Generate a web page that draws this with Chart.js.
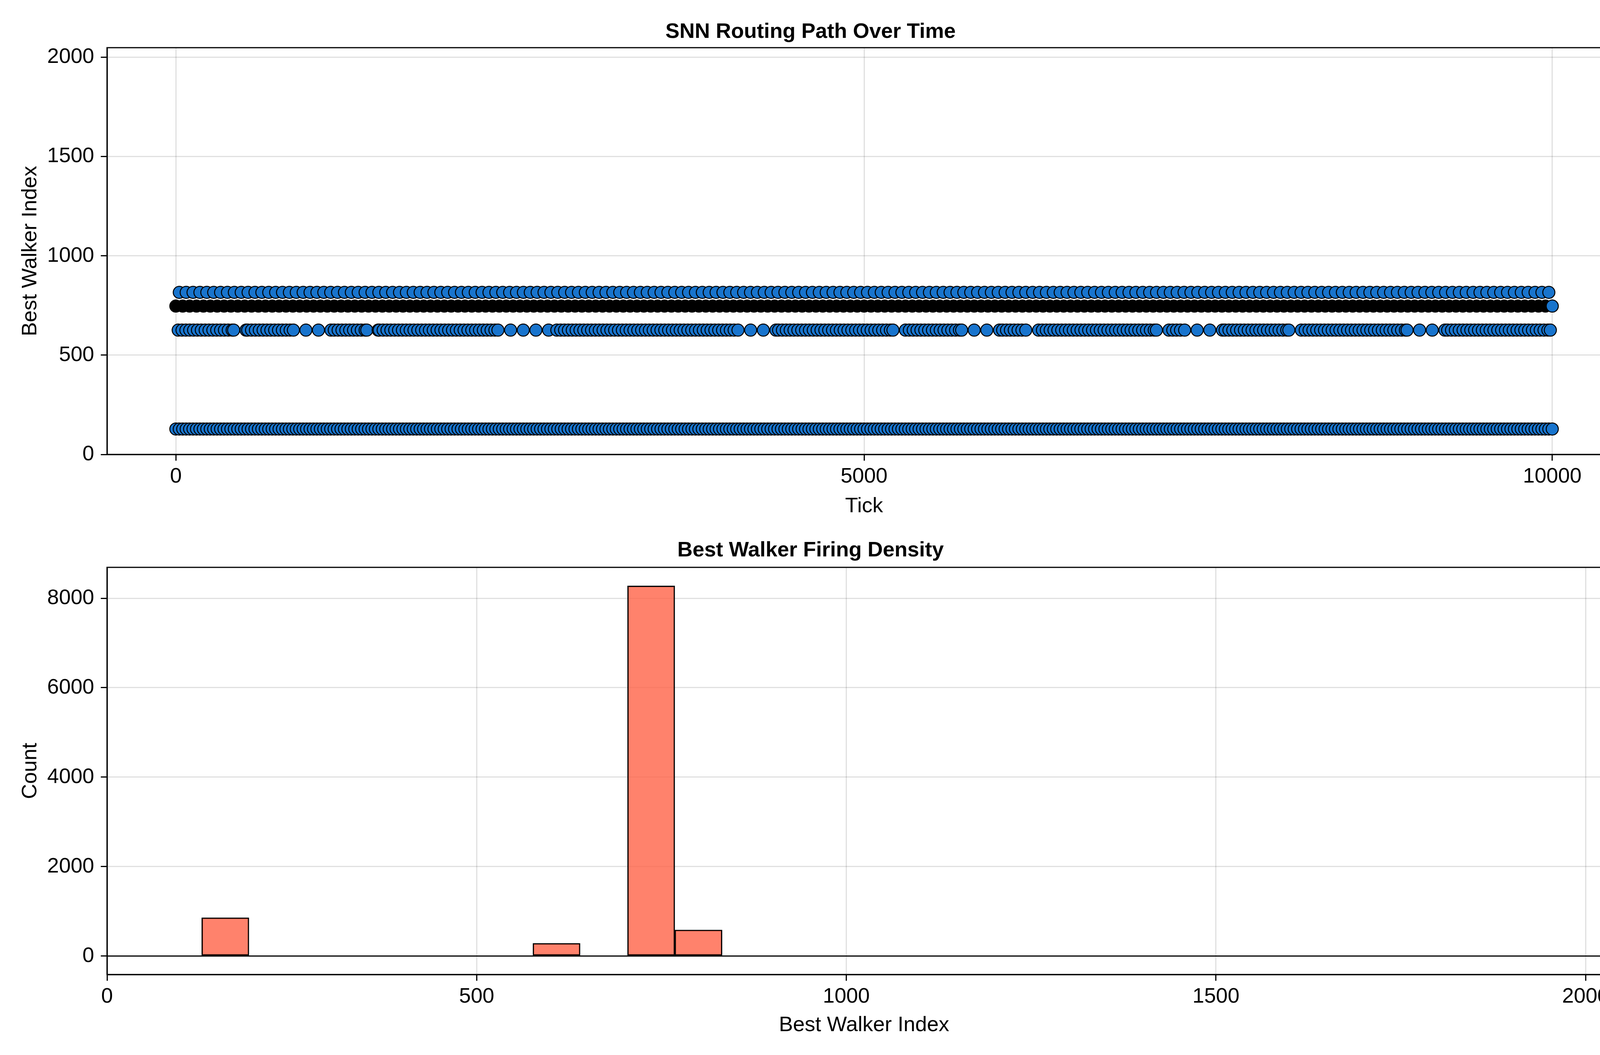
<!DOCTYPE html>
<html>
<head>
<meta charset="utf-8">
<script src="https://cdn.jsdelivr.net/npm/chart.js@4.4.0/dist/chart.umd.min.js"></script>
<style>
    html, body { margin: 0; padding: 0; background: #fff; }
    #lienzo { position: relative; width: 4200px; height: 2700px; }
    canvas { position: absolute; left: 0; }
</style>
</head>
<body>
<div id="lienzo">
    <canvas id="ruta" width="4200" height="1350" style="top:0"></canvas>
    <canvas id="densidad" width="4200" height="1350" style="top:1350px"></canvas>
</div>
<script>
// Walker indices that show up as rows in the top panel
const walkerIds = [128, 626, 747, 816];

// Ticks at which each walker was the best one (at dot resolution)
const ticks128 = [
    0,25,50,75,100,125,150,175,200,225,250,275,300,325,350,375,400,425,450,475,500,525,550,575,600,625,650,675,700,725,750,775,800,825,850,875,900,925,950,975,
    1000,1025,1050,1075,1100,1125,1150,1175,1200,1225,1250,1275,1300,1325,1350,1375,1400,1425,1450,1475,1500,1525,1550,1575,1600,1625,1650,1675,1700,1725,1750,1775,1800,1825,1850,1875,1900,1925,1950,1975,
    2000,2025,2050,2075,2100,2125,2150,2175,2200,2225,2250,2275,2300,2325,2350,2375,2400,2425,2450,2475,2500,2525,2550,2575,2600,2625,2650,2675,2700,2725,2750,2775,2800,2825,2850,2875,2900,2925,2950,2975,
    3000,3025,3050,3075,3100,3125,3150,3175,3200,3225,3250,3275,3300,3325,3350,3375,3400,3425,3450,3475,3500,3525,3550,3575,3600,3625,3650,3675,3700,3725,3750,3775,3800,3825,3850,3875,3900,3925,3950,3975,
    4000,4025,4050,4075,4100,4125,4150,4175,4200,4225,4250,4275,4300,4325,4350,4375,4400,4425,4450,4475,4500,4525,4550,4575,4600,4625,4650,4675,4700,4725,4750,4775,4800,4825,4850,4875,4900,4925,4950,4975,
    5000,5025,5050,5075,5100,5125,5150,5175,5200,5225,5250,5275,5300,5325,5350,5375,5400,5425,5450,5475,5500,5525,5550,5575,5600,5625,5650,5675,5700,5725,5750,5775,5800,5825,5850,5875,5900,5925,5950,5975,
    6000,6025,6050,6075,6100,6125,6150,6175,6200,6225,6250,6275,6300,6325,6350,6375,6400,6425,6450,6475,6500,6525,6550,6575,6600,6625,6650,6675,6700,6725,6750,6775,6800,6825,6850,6875,6900,6925,6950,6975,
    7000,7025,7050,7075,7100,7125,7150,7175,7200,7225,7250,7275,7300,7325,7350,7375,7400,7425,7450,7475,7500,7525,7550,7575,7600,7625,7650,7675,7700,7725,7750,7775,7800,7825,7850,7875,7900,7925,7950,7975,
    8000,8025,8050,8075,8100,8125,8150,8175,8200,8225,8250,8275,8300,8325,8350,8375,8400,8425,8450,8475,8500,8525,8550,8575,8600,8625,8650,8675,8700,8725,8750,8775,8800,8825,8850,8875,8900,8925,8950,8975,
    9000,9025,9050,9075,9100,9125,9150,9175,9200,9225,9250,9275,9300,9325,9350,9375,9400,9425,9450,9475,9500,9525,9550,9575,9600,9625,9650,9675,9700,9725,9750,9775,9800,9825,9850,9875,9900,9925,9950,9975,
    10000
];
const ticks626 = [
    17,45,73,101,129,157,185,213,241,269,297,325,353,381,409,420,
    510,522,550,578,606,634,662,690,718,746,774,802,830,854,
    945,1036,
    1127,1151,1179,1207,1235,1263,1291,1319,1347,1375,1387,
    1470,1478,1506,1534,1562,1590,1618,1646,1674,1702,1730,1758,1786,1814,1842,1870,1898,1926,1954,1982,2010,2038,2066,2094,2122,2150,2178,2206,2234,2262,2290,2318,2340,
    2432,2524,2616,
    2708,2768,2796,2824,2852,2880,2908,2936,2964,2992,3020,3048,3076,3104,3132,3160,3188,3216,3244,3272,3300,3328,3356,3384,3412,3440,3468,3496,3524,3552,3580,3608,3636,3664,3692,3720,3748,3776,3804,3832,3860,3888,3916,3944,3972,4000,4028,4056,4084,
    4176,4268,
    4360,4379,4407,4435,4463,4491,4519,4547,4575,4603,4631,4659,4687,4715,4743,4771,4799,4827,4855,4883,4911,4939,4967,4995,5023,5051,5079,5107,5135,5163,5191,5210,
    5301,5329,5357,5385,5413,5441,5469,5497,5525,5553,5581,5609,5637,5665,5693,5709,
    5800,5892,
    5984,6007,6035,6063,6091,6119,6147,6175,
    6268,6296,6324,6352,6380,6408,6436,6464,6492,6520,6548,6576,6604,6632,6660,6688,6716,6744,6772,6800,6828,6856,6884,6912,6940,6968,6996,7024,7052,7080,7108,7124,
    7215,7243,7271,7299,7329,
    7420,7512,
    7604,7623,7651,7679,7707,7735,7763,7791,7819,7847,7875,7903,7931,7959,7987,8015,8043,8071,8086,
    8177,8205,8233,8261,8289,8317,8345,8373,8401,8429,8457,8485,8513,8541,8569,8597,8625,8653,8681,8709,8737,8765,8793,8821,8849,8877,8905,8933,8945,
    9036,9128,
    9220,9240,9268,9296,9324,9352,9380,9408,9436,9464,9492,9520,9548,9576,9604,9632,9660,9688,9716,9744,9772,9800,9828,9856,9884,9912,9940,9968,9986
];
// dominant walker: fires almost every tick, sampled here
const ticks747 = [
    0,50,100,150,200,250,300,350,400,450,500,550,600,650,700,750,800,850,900,950,
    1000,1050,1100,1150,1200,1250,1300,1350,1400,1450,1500,1550,1600,1650,1700,1750,1800,1850,1900,1950,
    2000,2050,2100,2150,2200,2250,2300,2350,2400,2450,2500,2550,2600,2650,2700,2750,2800,2850,2900,2950,
    3000,3050,3100,3150,3200,3250,3300,3350,3400,3450,3500,3550,3600,3650,3700,3750,3800,3850,3900,3950,
    4000,4050,4100,4150,4200,4250,4300,4350,4400,4450,4500,4550,4600,4650,4700,4750,4800,4850,4900,4950,
    5000,5050,5100,5150,5200,5250,5300,5350,5400,5450,5500,5550,5600,5650,5700,5750,5800,5850,5900,5950,
    6000,6050,6100,6150,6200,6250,6300,6350,6400,6450,6500,6550,6600,6650,6700,6750,6800,6850,6900,6950,
    7000,7050,7100,7150,7200,7250,7300,7350,7400,7450,7500,7550,7600,7650,7700,7750,7800,7850,7900,7950,
    8000,8050,8100,8150,8200,8250,8300,8350,8400,8450,8500,8550,8600,8650,8700,8750,8800,8850,8900,8950,
    9000,9050,9100,9150,9200,9250,9300,9350,9400,9450,9500,9550,9600,9650,9700,9750,9800,9850,9900,9950,
    10000
];
const ticks816 = [
    25,75,125,175,225,275,325,375,425,475,525,575,625,675,725,775,825,875,925,975,
    1025,1075,1125,1175,1225,1275,1325,1375,1425,1475,1525,1575,1625,1675,1725,1775,1825,1875,1925,1975,
    2025,2075,2125,2175,2225,2275,2325,2375,2425,2475,2525,2575,2625,2675,2725,2775,2825,2875,2925,2975,
    3025,3075,3125,3175,3225,3275,3325,3375,3425,3475,3525,3575,3625,3675,3725,3775,3825,3875,3925,3975,
    4025,4075,4125,4175,4225,4275,4325,4375,4425,4475,4525,4575,4625,4675,4725,4775,4825,4875,4925,4975,
    5025,5075,5125,5175,5225,5275,5325,5375,5425,5475,5525,5575,5625,5675,5725,5775,5825,5875,5925,5975,
    6025,6075,6125,6175,6225,6275,6325,6375,6425,6475,6525,6575,6625,6675,6725,6775,6825,6875,6925,6975,
    7025,7075,7125,7175,7225,7275,7325,7375,7425,7475,7525,7575,7625,7675,7725,7775,7825,7875,7925,7975,
    8025,8075,8125,8175,8225,8275,8325,8375,8425,8475,8525,8575,8625,8675,8725,8775,8825,8875,8925,8975,
    9025,9075,9125,9175,9225,9275,9325,9375,9425,9475,9525,9575,9625,9675,9725,9775,9825,9875,9925,9975
];

// Tick labels
const tickAxisLabels = [0, 5000, 10000];
const walkerAxisLabels = [0, 500, 1000, 1500, 2000];
const binAxisLabels = [0, 500, 1000, 1500, 2000];
const countAxisLabels = [0, 2000, 4000, 6000, 8000];

// Histogram: 32 bins of width 64 over 0..2048
const binEdges = [0,64,128,192,256,320,384,448,512,576,640,704,768,832,896,960,1024,
    1088,1152,1216,1280,1344,1408,1472,1536,1600,1664,1728,1792,1856,1920,1984,2048];
const binCounts = [0,0,856,0,0,0,0,0,0,284,0,8277,584,0,0,0,
    0,0,0,0,0,0,0,0,0,0,0,0,0,0,0,0];

const azul = '#1874CD';
const negro = '#000000';
const rejilla = 'rgba(0,0,0,0.12)';
const fuente = 'Liberation Sans';

Chart.defaults.font.family = fuente;
Chart.defaults.color = negro;

// marco negro alrededor del area de la grafica (spines de arriba y derecha)
const marco = {
    id: 'marco',
    afterDraw(chart) {
        const { ctx, chartArea } = chart;
        ctx.save();
        ctx.strokeStyle = negro;
        ctx.lineWidth = 3;
        ctx.strokeRect(chartArea.left, chartArea.top, chartArea.right - chartArea.left, chartArea.bottom - chartArea.top);
        ctx.restore();
    }
};

const ejeX = (min, max, valores, titulo, altura, tituloPad) => ({
    type: 'linear',
    position: 'bottom',
    min: min,
    max: max,
    offset: false,
    afterBuildTicks: axis => { axis.ticks = valores.map(v => ({ value: v })); },
    afterFit: axis => { axis.height = altura; },
    grid: { color: rejilla, lineWidth: 3, drawTicks: true, tickLength: 16, tickColor: negro, tickWidth: 3, offset: false },
    border: { display: true, color: negro, width: 3 },
    ticks: { color: negro, font: { size: 54 }, padding: 9, maxRotation: 0, autoSkip: false, callback: v => String(v) },
    title: { display: true, text: titulo, color: negro, font: { size: 54 }, padding: { top: 0, bottom: tituloPad } }
});

const ejeY = (min, max, valores, titulo) => ({
    type: 'linear',
    position: 'left',
    min: min,
    max: max,
    afterBuildTicks: axis => { axis.ticks = valores.map(v => ({ value: v })); },
    afterFit: axis => { axis.width = 274; },
    grid: { color: rejilla, lineWidth: 3, drawTicks: true, tickLength: 16, tickColor: negro, tickWidth: 3 },
    border: { display: true, color: negro, width: 3 },
    ticks: { color: negro, font: { size: 54 }, padding: 17, autoSkip: false, callback: v => String(v) },
    title: { display: true, text: titulo, color: negro, font: { size: 54 }, padding: { top: 46, bottom: 0 } }
});

const fila = (ticks, walker, relleno) => ({
    data: ticks.map(t => ({ x: t, y: walker })),
    pointRadius: 15.5,
    pointBorderWidth: 2.5,
    pointBorderColor: negro,
    pointBackgroundColor: relleno,
    showLine: false
});

const graficaRuta = () => {
    const ctx = document.getElementById('ruta').getContext('2d');
    const ultimo = ticks747.length - 1;
    new Chart(ctx, {
        type: 'scatter',
        data: {
            datasets: [
                fila(ticks816, walkerIds[3], azul),
                fila(ticks747, walkerIds[2], c => c.dataIndex === ultimo ? azul : negro),
                fila(ticks626, walkerIds[1], azul),
                fila(ticks128, walkerIds[0], azul)
            ]
        },
        options: {
            responsive: false,
            animation: false,
            devicePixelRatio: 1,
            events: [],
            layout: { padding: { left: 0, right: 50, top: 0, bottom: 0 } },
            plugins: {
                legend: { display: false },
                tooltip: { enabled: false },
                title: {
                    display: true,
                    text: 'SNN Routing Path Over Time',
                    color: negro,
                    font: { size: 54, weight: 'bold', lineHeight: 1 },
                    padding: { top: 55, bottom: 13 }
                }
            },
            scales: {
                x: ejeX(-500, 10500, tickAxisLabels, 'Tick', 187, 21),
                y: ejeY(0, 2048, walkerAxisLabels, 'Best Walker Index')
            }
        },
        plugins: [marco]
    });
};

const graficaDensidad = () => {
    const ctx = document.getElementById('densidad').getContext('2d');
    const barras = binCounts.map((c, i) => ({ x: (binEdges[i] + binEdges[i + 1]) / 2, y: c }));
    const tope = Math.max(...binCounts);
    new Chart(ctx, {
        type: 'bar',
        data: {
            datasets: [
                {
                    type: 'line',
                    data: [{ x: binEdges[0], y: 0 }, { x: binEdges[binEdges.length - 1], y: 0 }],
                    borderColor: negro,
                    borderWidth: 3,
                    pointRadius: 0
                },
                {
                    type: 'bar',
                    data: barras,
                    backgroundColor: 'rgba(255,99,71,0.8)',
                    borderColor: negro,
                    borderWidth: 3,
                    borderSkipped: false,
                    barPercentage: 1,
                    categoryPercentage: 1,
                    grouped: false
                }
            ]
        },
        options: {
            responsive: false,
            animation: false,
            devicePixelRatio: 1,
            events: [],
            layout: { padding: { left: 0, right: 50, top: 0, bottom: 0 } },
            plugins: {
                legend: { display: false },
                tooltip: { enabled: false },
                title: {
                    display: true,
                    text: 'Best Walker Firing Density',
                    color: negro,
                    font: { size: 54, weight: 'bold', lineHeight: 1 },
                    padding: { top: 32, bottom: 16 }
                }
            },
            scales: {
                x: ejeX(binEdges[0], binEdges[binEdges.length - 1], binAxisLabels, 'Best Walker Index', 206, 43),
                y: ejeY(-tope * 0.05, tope * 1.05, countAxisLabels, 'Count')
            }
        },
        plugins: [marco]
    });
};

window.onload = function () {
    graficaRuta();
    graficaDensidad();
};
</script>
</body>
</html>
